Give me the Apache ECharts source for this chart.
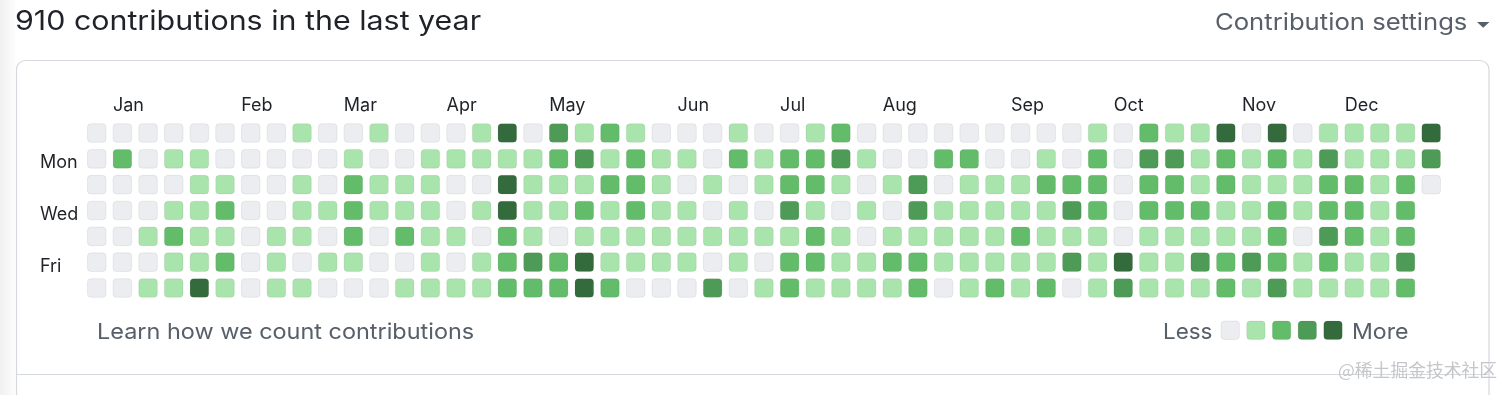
<!DOCTYPE html>
<html><head><meta charset="utf-8">
<script src="https://cdn.jsdelivr.net/npm/echarts@6/dist/echarts.min.js"></script>
<style>html,body{margin:0;padding:0;background:#fff}#c{width:1512px;height:395px}</style>
</head><body><div id="c"></div>
<script>
// ---- data ----
const titleText = '910 contributions in the last year';
const weekDays = ['Sun', 'Mon', 'Tue', 'Wed', 'Thu', 'Fri', 'Sat'];
const dayTickLabels = ['', 'Mon', '', 'Wed', '', 'Fri', ''];
const monthNames = ['Jan', 'Feb', 'Mar', 'Apr', 'May', 'Jun', 'Jul', 'Aug', 'Sep', 'Oct', 'Nov', 'Dec'];
const monthStartWeek = [1, 6, 10, 14, 18, 23, 27, 31, 36, 40, 45, 49];
const levelColors = ['#ebedf0', '#a9e4ac', '#63bc6a', '#4e9b57', '#346b3d'];
// contribution level (0-4) per week, one array per weekday
const sun = [0,0,0,0,0,0,0,0, 1,0,0,1,0,0,0,1,4, 0,3,1,2,1,0,0,0,1, 0,0,1,2,0,0,0,0,0,0, 0,0,0,1,0,2,1,1,4, 0,4,0,1,1,1,1,4];
const mon = [0,2,0,1,1,0,0,0, 0,0,1,0,0,1,1,1,1, 1,2,3,1,2,1,1,0,2, 1,2,2,3,1,0,0,2,2,0, 0,1,0,2,0,3,3,1,2, 1,2,1,3,1,1,1,3];
const tue = [0,0,0,0,1,1,0,0, 1,0,2,1,1,1,0,0,4, 1,1,1,2,2,1,0,1,0, 1,2,2,1,0,1,3,0,1,1, 1,2,2,2,0,2,2,1,2, 1,1,1,2,2,1,2,0];
const wed = [0,0,0,1,1,2,0,0, 1,1,2,1,1,1,0,1,4, 1,1,2,1,2,1,1,0,1, 0,3,1,0,1,0,3,1,1,1, 1,1,3,2,0,2,2,2,1, 1,2,1,2,2,1,2,null];
const thu = [0,0,1,2,1,1,0,1, 1,0,2,0,2,1,1,0,2, 1,0,1,1,1,1,1,1,1, 1,1,2,1,0,1,1,1,1,1, 2,1,1,1,0,1,1,1,1, 1,2,0,3,2,1,2,null];
const fri = [0,0,0,1,1,2,0,1, 0,1,1,0,0,1,0,1,2, 3,2,4,1,1,1,1,0,1, 0,2,2,1,1,2,2,1,1,1, 1,1,3,1,4,1,1,3,2, 3,2,1,2,1,1,3,null];
const sat = [0,0,1,1,4,1,0,1, 1,0,0,0,1,1,1,1,2, 2,2,4,2,0,0,0,3,0, 1,2,1,1,1,1,2,0,1,2, 1,2,0,1,3,1,1,1,2, 1,3,1,1,1,1,2,null];

// ---- build ----
const rows = [sun, mon, tue, wed, thu, fri, sat];
const weeks = sun.map((_, i) => 'W' + (i + 1));
const cells = [];
rows.forEach((r, ri) => r.forEach((v, ci) => { if (v !== null) cells.push([ci, ri, v]); }));
const monthData = monthStartWeek.map((w, i) => [w, 0, i]);

const FONT = 'Inter, "Liberation Sans", sans-serif';
const dark = '#1f2328', grey = '#57606a';
function label(text, x, y, size, color, sx) {
  return { type: 'text', x: x, y: y, scaleX: sx || 1, silent: true,
    style: { text: text, fill: color, fontSize: size, fontFamily: FONT, textAlign: 'left', textVerticalAlign: 'middle' } };
}
const chart = echarts.init(document.getElementById('c'));
chart.setOption({
  animation: false,
  grid: { left: 83.9, width: 1360.1, top: 120.1, height: 180.8 },
  xAxis: { type: 'category', data: weeks, show: false },
  yAxis: {
    type: 'category', data: weekDays, inverse: true,
    axisLine: { show: false }, axisTick: { show: false }, splitLine: { show: false },
    axisLabel: {
      interval: 0, margin: 44, align: 'left',
      formatter: (v, i) => dayTickLabels[i] ? '{d|' + dayTickLabels[i] + '}' : '',
      rich: { d: { color: dark, fontSize: 18, fontFamily: FONT, padding: [8, 0, 0, 0] } }
    }
  },
  series: [
    {
      type: 'custom', data: cells, encode: { x: 0, y: 1 },
      renderItem: (params, api) => {
        const p = api.coord([api.value(0), api.value(1)]);
        const s = 18.6;
        return {
          type: 'rect',
          shape: { x: p[0] - s / 2, y: p[1] - s / 2, width: s, height: s, r: 3.5 },
          style: { fill: levelColors[api.value(2)], stroke: 'rgba(27,31,35,0.07)', lineWidth: 1 }
        };
      }
    },
    {
      type: 'custom', data: monthData, encode: { x: 0, y: 1 }, silent: true,
      renderItem: (params, api) => {
        const p = api.coord([api.value(0), api.value(1)]);
        return {
          type: 'text',
          style: {
            x: p[0] - 9.5, y: p[1] - 27.5, text: monthNames[api.value(2)],
            fill: dark, fontSize: 18, fontFamily: FONT, textAlign: 'left', textVerticalAlign: 'middle'
          }
        };
      }
    }
  ],
  graphic: [
    { type: 'rect', shape: { x: 0, y: 0, width: 18, height: 395 }, silent: true,
      style: { fill: new echarts.graphic.LinearGradient(0, 0, 1, 0, [{ offset: 0, color: 'rgba(0,0,0,0.06)' }, { offset: 1, color: 'rgba(0,0,0,0)' }]) } },
    label(titleText, 15, 21.5, 27, dark, 1.125),
    label('Contribution settings', 1215, 23, 23, grey, 1.115),
    { type: 'polygon', shape: { points: [[1477, 22], [1489.5, 22], [1483.2, 27.8]] }, style: { fill: grey } },
    { type: 'rect', shape: { x: 16.5, y: 60.5, width: 1472.5, height: 420, r: 9 }, style: { fill: 'none', stroke: '#d5d8dc', lineWidth: 1.2 } },
    { type: 'line', shape: { x1: 16.5, y1: 374.5, x2: 1489, y2: 374.5 }, style: { stroke: '#d5d8dc', lineWidth: 1.2 } },
    label('Learn how we count contributions', 97, 332, 22, grey, 1.065),
    label('Less', 1163, 332, 22, grey, 1.02),
    label('More', 1352, 332, 22, grey, 1.05),
    ...levelColors.map((c, i) => ({
      type: 'rect', shape: { x: 1221 + i * 25.7, y: 321, width: 18.4, height: 18.4, r: 3.5 },
      style: { fill: c, stroke: 'rgba(27,31,35,0.07)', lineWidth: 1 }
    })),
    { type: 'text', x: 1338, y: 370, silent: true,
      style: { text: '@稀土掘金技术社区', fill: '#c4c6c9', fontSize: 17.8, fontFamily: '"Noto Sans CJK SC", sans-serif', textVerticalAlign: 'middle' } }
  ]
});
</script></body></html>
